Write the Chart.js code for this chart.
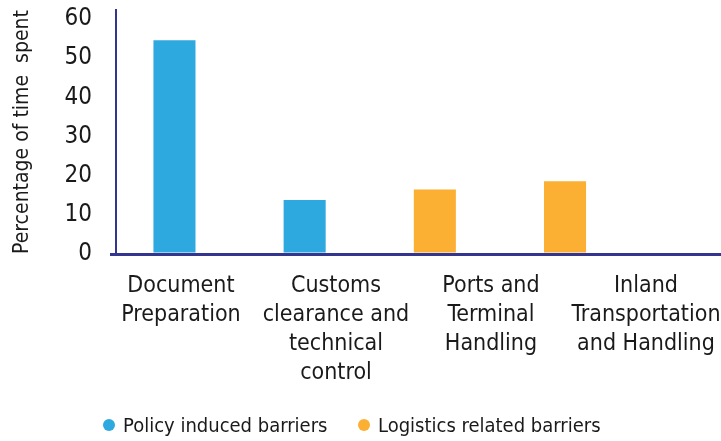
<!DOCTYPE html>
<html>
<head>
<meta charset="utf-8">
<script src="https://cdn.jsdelivr.net/npm/chart.js@4.4.0/dist/chart.umd.min.js"></script>
<style>
  body { margin: 0; background: #fff; }
  #wrap { position: relative; width: 721px; height: 441px; }
  #legend { position: absolute; left: 103px; top: 410px; display: flex; white-space: nowrap;
            font: 20px 'DejaVu Sans Condensed', 'DejaVu Sans', sans-serif;
            line-height: 30px; color: #1a1a1a; }
  .item { display: flex; align-items: center; }
  .item:first-child { width: 255px; }
  .dot { width: 12px; height: 12px; border-radius: 50%; margin-right: 8px; flex: none; }
</style>
</head>
<body>
<div id="wrap">
  <canvas id="barChart" width="721" height="441"></canvas>
  <div id="legend"></div>
</div>
<script>
// ---- data ----
const categories = [
  ['Document', 'Preparation'],
  ['Customs', 'clearance and', 'technical', 'control'],
  ['Ports and', 'Terminal', 'Handling'],
  ['Inland', 'Transportation', 'and Handling']
];
const seriesNames = ['Policy induced barriers', 'Logistics related barriers'];
const policyValues = [54.6, 13.8];      // categories 0, 1
const logisticsValues = [16.5, 18.6];   // categories 2, 3
const yTicks = [0, 10, 20, 30, 40, 50, 60];

const NAVY = '#33358E';
const BLUE = '#2EA9DF';
const ORANGE = '#FBB034';
const FONT = "'DejaVu Sans Condensed', 'DejaVu Sans', sans-serif";

const policyData = policyValues.map((v, i) => ({ x: i, y: v }));
const logisticsData = logisticsValues.map((v, i) => ({ x: i + policyValues.length, y: v }));
const categoryTicks = s => { s.ticks = categories.map((_, i) => ({ value: i })); };
const noPad = s => { s.paddingLeft = 0; s.paddingRight = 0; s.paddingTop = 0; s.paddingBottom = 0; };

// html legend built from the datasets
const htmlLegend = {
  id: 'htmlLegend',
  afterUpdate(chart) {
    const box = document.getElementById('legend');
    box.innerHTML = '';
    chart.data.datasets.forEach(ds => {
      const item = document.createElement('div');
      item.className = 'item';
      const dot = document.createElement('span');
      dot.className = 'dot';
      dot.style.background = ds.backgroundColor;
      const txt = document.createElement('span');
      txt.textContent = ds.label;
      item.appendChild(dot);
      item.appendChild(txt);
      box.appendChild(item);
    });
  }
};

const chart = new Chart(document.getElementById('barChart'), {
  type: 'bar',
  data: {
    datasets: [
      { label: seriesNames[0], data: policyData, backgroundColor: BLUE },
      { label: seriesNames[1], data: logisticsData, backgroundColor: ORANGE }
    ]
  },
  options: {
    responsive: false,
    animation: false,
    devicePixelRatio: 1,
    layout: { padding: { top: 10, right: 0, bottom: 54, left: 0 } },
    grouped: false,
    barPercentage: 0.323,
    categoryPercentage: 1,
    plugins: {
      legend: { display: false },
      tooltip: { enabled: false }
    },
    scales: {
      x: {
        type: 'linear',
        offset: false,
        min: -0.449,
        max: 4.198,
        afterBuildTicks: categoryTicks,
        afterFit: s => { s.height = 0; noPad(s); },
        grid: { display: false },
        border: { display: true, color: NAVY, width: 3 },
        ticks: { display: false }
      },
      x2: {
        type: 'linear',
        position: 'bottom',
        offset: false,
        min: -0.419,
        max: 3.484,
        afterBuildTicks: categoryTicks,
        afterFit: s => { s.height = 133; noPad(s); },
        grid: { display: false },
        border: { display: false },
        ticks: {
          autoSkip: false,
          maxRotation: 0,
          padding: 10,
          color: '#1a1a1a',
          font: { family: FONT, size: 23, lineHeight: 1.26 },
          callback: v => categories[v]
        }
      },
      y: {
        min: 0,
        max: 62.3,
        afterBuildTicks: s => { s.ticks = yTicks.map(v => ({ value: v })); },
        afterFit: s => { s.width = 116; noPad(s); },
        grid: {
          drawOnChartArea: false,
          drawTicks: true,
          tickLength: 6,
          lineWidth: 3,
          color: c => (c.tick && c.tick.value === 0) ? NAVY : 'rgba(0,0,0,0)'
        },
        border: { display: true, color: NAVY, width: 2 },
        ticks: {
          autoSkip: false,
          padding: 18,
          color: '#1a1a1a',
          font: { family: FONT, size: 24 }
        },
        title: {
          display: true,
          text: 'Percentage of time  spent',
          color: '#1a1a1a',
          font: { family: FONT, size: 21, lineHeight: 1.2 },
          padding: { top: 10, bottom: 0 }
        }
      }
    }
  },
  plugins: [htmlLegend]
});
</script>
</body>
</html>
